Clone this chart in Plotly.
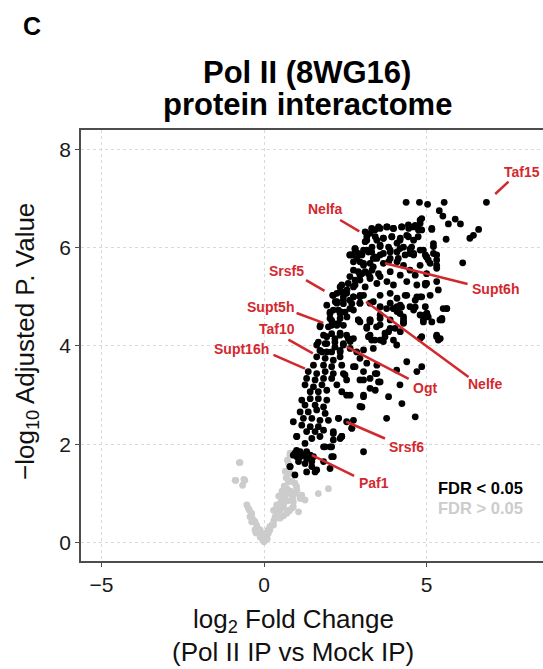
import plotly.graph_objects as go

# ---------------- data ----------------
sig_points = [
    # top-right sparse points
    (4.37,6.92),(4.78,6.92),(5.03,6.88),(5.54,6.92),(6.84,6.92),(5.39,6.75),(5.50,6.64),(5.67,6.48),
    (5.88,6.58),(6.04,6.48),(6.60,6.37),(6.44,6.25),(6.33,6.19),(5.16,6.37),(4.85,6.59),(4.80,6.49),
    (4.70,6.42),(5.60,6.17),(5.21,6.08),(6.11,5.69),(4.96,5.85),(5.05,5.75),(5.31,5.75),(5.31,5.64),
    # upper dense block
    (3.41,6.36),(3.57,6.39),(3.79,6.42),(3.98,6.39),(4.23,6.42),(4.45,6.39),(4.65,6.45),(4.80,6.56),
    (4.85,6.36),(5.16,6.39),(3.26,6.29),(3.16,6.22),
    (3.47,6.15),(3.67,6.19),(3.93,6.22),(4.19,6.19),(4.39,6.25),(4.60,6.15),(4.74,6.22),(4.09,6.09),
    (3.83,6.01),(4.29,6.01),(4.54,6.01),(3.57,6.05),(3.32,6.01),(3.11,6.12),
    (2.80,5.95),(3.01,5.85),(3.21,5.91),(3.41,5.81),(3.67,5.88),(3.88,5.78),(4.09,5.91),(4.34,5.85),
    (4.60,5.88),(5.00,5.81),(4.80,5.95),(5.21,5.88),(2.64,5.85),(2.85,5.78),
    (3.06,5.64),(3.36,5.61),(3.67,5.68),(4.09,5.71),(4.29,5.64),(4.49,5.54),(4.80,5.64),(5.11,5.68),
    (5.31,5.58),(2.90,5.51),(3.21,5.47),(3.52,5.47),(3.88,5.51),(4.19,5.44),(4.65,5.44),(5.00,5.47),
    (2.64,5.41),(2.95,5.34),(3.26,5.37),(2.80,5.24),(3.11,5.20),(3.47,5.27),(3.78,5.31),(3.98,5.24),
    (4.39,5.31),(4.70,5.24),(5.00,5.27),(5.31,5.31),
    (2.24,5.07),(2.49,5.10),(2.75,5.00),(3.06,5.03),(3.57,5.03),(3.88,5.07),(4.09,4.97),(4.39,5.03),
    (4.65,4.93),(4.85,5.00),(5.11,5.03),(2.19,4.90),(2.44,4.93),(2.95,4.87),(3.36,4.90),
    (2.13,4.73),(2.39,4.69),(2.64,4.76),(3.57,4.79),(3.98,4.76),(4.23,4.79),(4.65,4.79),(4.90,4.62),
    (5.16,4.49),(3.57,4.56),(3.26,4.49),(4.29,4.49),(2.03,4.56),
    # diagonal band
    (2.11,5.03),(2.34,5.20),(2.55,5.14),(2.75,5.20),(1.93,4.83),(2.24,4.87),(2.44,5.00),(2.64,4.93),
    (2.95,5.00),(2.03,4.66),(2.34,4.66),(2.55,4.59),(2.75,4.73),(2.13,4.46),(2.44,4.42),(1.73,4.42),
    (2.80,5.98),(2.64,5.85),(2.90,5.88),(3.16,5.95),(2.75,5.71),(3.06,5.68),(3.36,5.78),(3.57,5.85),
    (3.88,5.91),(2.75,5.54),(3.01,5.47),(3.32,5.54),(3.57,5.41),
    (4.49,5.97),(4.60,5.85),(4.90,5.95),(5.00,5.81),(5.21,6.02),(5.31,5.85),(4.96,5.27),(5.36,5.14),
    (4.80,5.00),(4.96,4.80),(4.60,4.73),(5.05,4.59),(5.62,4.76),(5.47,4.56),(4.09,4.80),(4.29,4.59),
    (2.95,4.87),(3.26,4.87),(3.57,4.80),(3.88,4.87),(4.19,4.83),(4.34,5.03),(4.70,5.00),(4.96,5.24),
    (5.00,4.66),(4.90,4.53),(5.51,4.76),(5.41,4.53),(2.90,4.53),(3.26,4.53),(3.57,4.63),(3.88,4.53),
    (4.09,4.70),(4.29,4.53),(3.46,4.39),(3.72,4.26),(3.88,4.36),(4.19,4.29),(3.16,4.36),(3.21,4.19),
    (3.41,4.12),(3.67,4.09),(3.98,4.12),(4.85,4.19),(5.31,4.22),(5.36,4.12),
    (2.39,5.24),(2.59,5.27),(2.80,5.34),(2.95,5.44),(3.11,5.51),(3.26,5.40),(2.13,5.03),(2.34,5.10),
    (2.54,5.07),(2.75,5.00),(2.95,5.03),(2.24,4.90),(2.44,4.86),(2.70,4.86),(2.03,4.69),(2.29,4.73),
    (2.49,4.69),(2.08,4.52),(2.34,4.56),(1.98,4.39),(2.24,4.42),(1.83,4.22),(2.08,4.25),(2.34,4.22),
    (2.59,4.15),(1.67,4.08),(1.93,4.05),(2.18,4.08),(2.44,4.05),(1.72,3.91),(1.93,3.88),(2.34,3.91),
    (2.65,3.95),
    # middle / lower band
    (1.72,4.39),(2.08,4.42),(2.29,4.46),(2.34,4.26),(2.54,4.22),(1.93,4.19),(2.18,4.15),(2.75,4.15),
    (2.90,4.53),(3.16,4.39),(3.26,4.22),(1.62,4.02),(1.88,4.05),(2.18,3.98),(2.44,4.02),(2.65,4.09),
    (1.78,3.88),(2.08,3.88),(2.34,3.88),(2.85,3.88),(3.06,3.92),(3.36,3.95),(1.62,3.78),(1.88,3.75),
    (2.13,3.71),(2.34,3.78),(1.52,3.61),(1.83,3.61),(2.08,3.58),(2.39,3.61),(2.75,3.58),(3.16,3.65),
    (3.47,3.61),(2.95,3.75),(1.36,3.48),(1.62,3.44),(1.88,3.48),(2.13,3.44),(1.31,3.34),(1.57,3.31),
    (1.83,3.34),(2.08,3.34),(2.44,3.44),(2.54,3.31),(3.06,3.48),(3.26,3.34),(3.47,3.44),(2.95,3.31),
    (1.26,3.21),(1.52,3.17),(1.78,3.21),(1.42,3.07),(1.67,3.07),(1.93,3.10),(2.24,3.21),(2.39,3.07),
    (2.65,3.00),(3.26,3.14),(3.52,3.27),(1.16,2.90),(1.42,2.93),(1.67,2.93),(1.93,2.90),(1.26,2.80),
    (1.57,2.80),(1.83,2.76),(3.06,2.97),(3.01,2.76),(1.11,2.66),(1.36,2.66),(1.62,2.70),(1.88,2.63),
    (1.21,2.53),(1.47,2.53),(1.72,2.49),(2.29,2.53),(2.54,2.46),(2.75,2.49),(1.98,2.49),(0.90,2.46),
    (1.16,2.39),(1.42,2.36),(1.67,2.36),(1.31,2.26),(1.57,2.26),(1.83,2.29),(2.13,2.26),(2.39,2.16),
    (2.70,2.33),(1.01,2.16),(1.47,2.12),(1.72,2.16),(2.13,2.09),(1.88,1.95),(2.08,1.95),(2.34,2.12),
    (0.95,1.82),(1.11,1.85),(1.01,1.75),(1.21,1.78),(1.31,1.71),(1.06,1.65),(1.26,1.61),(1.52,1.75),
    (1.83,1.65),(2.08,1.75),(1.47,1.55),(0.80,1.55),(1.62,1.48),
    # lower scattered
    (1.00,1.88),(0.90,1.78),(1.11,1.75),(1.31,1.85),(1.42,1.78),(1.26,2.02),(1.00,2.16),(0.80,1.55),
    (0.95,1.38),(1.31,1.44),(1.57,1.44),(2.03,1.51),(1.47,1.65),(1.83,1.95),(2.03,1.95),(2.13,1.75),
    (2.13,2.22),(2.39,2.16),(2.29,2.53),(2.70,2.33),(3.06,1.85),(3.77,2.53),(4.65,2.56),(4.24,2.83),
    (3.83,2.97),(4.18,3.21),(4.39,3.68),(4.70,3.48),(4.85,3.58),(4.08,3.51),(2.95,2.77),(3.06,3.00),
    (3.42,3.10),(3.57,3.27),(3.42,3.44),(3.06,3.31),(2.80,3.58),(2.49,3.41),(2.54,3.00),(5.31,4.19),
    (5.42,4.15),(5.62,4.76),(5.47,4.53),(5.01,4.66),(4.90,4.49),(4.80,4.63),(4.49,4.80),(4.29,4.46),
    (4.03,4.36),(3.83,4.29),(3.57,4.43),(4.80,4.15),(3.57,4.12),(3.72,4.19),(3.31,4.12),(2.95,4.49),
    (3.26,4.53),(4.08,4.02),(4.18,4.66),(3.98,4.76),(3.77,4.76),
    # top band
    (3.11,6.32),(3.31,6.39),(3.52,6.42),(3.77,6.42),(3.98,6.39),(4.24,6.42),(4.44,6.46),(4.59,6.42),
    (4.75,6.36),(3.16,6.15),(3.42,6.22),(3.67,6.19),(3.93,6.22),(4.18,6.15),(4.44,6.22),(2.80,5.98),
    (2.70,5.85),(3.06,5.95),(3.31,5.91),(3.57,6.02),(3.88,5.95),(4.18,5.98),(4.49,5.88),(4.13,5.78),
    (3.83,5.71),(3.47,5.78),(3.26,5.68),(2.95,5.71),
]

ns_points = [
    (-0.76,1.63),(-0.87,1.27),(-0.62,1.29),(-0.66,1.17),(-0.53,0.77),(-0.45,0.66),(-0.38,0.56),
    (-0.33,0.46),(-0.23,0.36),(-0.14,0.26),(-0.07,0.16),(0.00,0.02),(0.08,0.12),(0.18,0.26),
    (0.29,0.36),(0.34,0.50),(0.44,0.63),(0.39,0.77),(0.54,0.87),(0.65,0.97),(0.70,1.10),(0.75,1.27),
    (0.80,1.41),(0.75,1.61),(0.80,1.78),(0.59,0.73),(0.85,0.70),(1.06,0.63),(1.11,0.90),(1.01,1.07),
    (1.16,0.97),(1.67,1.00),(1.98,1.10),(0.95,1.21),(0.85,0.97),(0.49,0.50),(0.29,0.66),(0.13,0.26),
    (-0.12,0.12),(-0.28,0.26),(-0.38,0.43),(-0.43,0.53),(0.03,0.19),(0.70,0.66),(0.90,0.83),
    (-0.74,1.63),(-0.89,1.27),(-0.59,1.27),(-0.38,0.60),(-0.28,0.43),(-0.12,0.26),(0.03,0.09),
    (0.13,0.19),(0.18,0.33),(0.34,0.53),(0.39,0.73),(0.54,0.87),(0.70,1.00),(0.75,1.24),(0.80,1.82),
    (1.00,1.14),(1.11,0.94),(1.26,0.87),(0.90,0.73),(0.49,0.66),(0.70,0.60),
    (0.55,1.05),(0.62,1.15),(0.72,0.85),(0.45,0.95),(0.82,1.05),(0.60,0.78),(0.88,0.92),(0.50,0.80),
    (0.68,1.32),(0.78,1.50),(0.72,1.68),(0.65,1.45),(0.30,0.45),(0.24,0.36),(-0.05,0.06),(0.02,0.14),
    (0.10,0.08),(-0.48,0.70),(-0.40,0.55),(-0.20,0.30),(-0.25,0.20),(0.85,1.25),(0.95,1.00),
    (0.78,0.65),(0.60,0.55),(0.40,0.62),
]

labels = ["Taf15", "Nelfa", "Srsf5", "Supt6h", "Supt5h", "Nelfe", "Taf10", "Supt16h", "Ogt", "Srsf6", "Paf1"]
label_x = [7.92, 1.88, 0.68, 7.13, 0.20, 6.80, 0.39, -0.68, 4.96, 4.39, 3.38]
label_y = [7.53, 6.78, 5.53, 5.15, 4.80, 3.23, 4.34, 3.94, 3.14, 1.95, 1.22]
seg_from = [(7.52,7.34),(2.34,6.56),(1.29,5.34),(6.26,5.26),(1.00,4.67),(6.29,3.37),(0.75,4.13),(0.29,3.82),(4.45,3.33),(3.72,2.12),(2.77,1.36)]
seg_to = [(7.11,7.09),(2.93,6.33),(1.86,5.12),(3.72,5.68),(1.82,4.47),(3.14,4.90),(1.50,3.85),(1.26,3.54),(2.55,3.98),(2.53,2.46),(1.47,1.78)]

legend_labels = ["FDR < 0.05", "FDR > 0.05"]
legend_x = 6.67
legend_y = [1.12, 0.70]

x_ticks = [-5, 0, 5]
y_ticks = [0, 2, 4, 6, 8]

# ---------------- styling ----------------
FONT = "Liberation Sans, Arial, Helvetica, sans-serif"
RED = "#D2292F"
BLACK = "#000000"
GREY = "#CCCCCC"
W, H = 543, 669
L, R, T, B = 81, 0, 130, 108


def pxx(xp):
    return (xp - L) / (W - L - R)


def pxy(yp):
    return (H - B - yp) / (H - T - B)


fig = go.Figure()
fig.add_trace(go.Scatter(
    x=[p[0] for p in ns_points], y=[p[1] for p in ns_points], mode="markers",
    marker=dict(color=GREY, size=6.8, line=dict(width=0)), hoverinfo="skip", showlegend=False))
fig.add_trace(go.Scatter(
    x=[p[0] for p in sig_points], y=[p[1] for p in sig_points], mode="markers",
    marker=dict(color=BLACK, size=6.8, line=dict(width=0)), hoverinfo="skip", showlegend=False))

shapes = []
for (x0, y0), (x1, y1) in zip(seg_from, seg_to):
    shapes.append(dict(type="line", xref="x", yref="y", x0=x0, y0=y0, x1=x1, y1=y1,
                       line=dict(color=RED, width=2.5)))

annotations = []
for t, x, y in zip(labels, label_x, label_y):
    annotations.append(dict(x=x, y=y, xref="x", yref="y", text="<b>" + t + "</b>", showarrow=False,
                            font=dict(family=FONT, size=14, color=RED), xanchor="center", yanchor="middle"))
for t, y, c in zip(legend_labels, legend_y, [BLACK, GREY]):
    annotations.append(dict(x=legend_x, y=y, xref="x", yref="y", text="<b>" + t + "</b>", showarrow=False,
                            font=dict(family=FONT, size=16.5, color=c), xanchor="center", yanchor="middle"))

annotations += [
    dict(x=pxx(32), y=pxy(26), xref="paper", yref="paper", text="<b>C</b>", showarrow=False,
         font=dict(family=FONT, size=25, color="#000"), xanchor="center", yanchor="middle"),
    dict(x=pxx(307), y=pxy(73), xref="paper", yref="paper", text="<b>Pol II (8WG16)</b>", showarrow=False,
         font=dict(family=FONT, size=31, color="#000"), xanchor="center", yanchor="middle"),
    dict(x=pxx(307), y=pxy(105), xref="paper", yref="paper", text="<b>protein interactome</b>", showarrow=False,
         font=dict(family=FONT, size=31, color="#000"), xanchor="center", yanchor="middle"),
    dict(x=pxx(293), y=pxy(620), xref="paper", yref="paper", text="log<sub>2</sub> Fold Change", showarrow=False,
         font=dict(family=FONT, size=26, color="#111"), xanchor="center", yanchor="middle"),
    dict(x=pxx(293), y=pxy(652), xref="paper", yref="paper", text="(Pol II IP vs Mock IP)", showarrow=False,
         font=dict(family=FONT, size=26, color="#111"), xanchor="center", yanchor="middle"),
    dict(x=pxx(26), y=pxy(342), xref="paper", yref="paper", text="\u2212log<sub>10</sub> Adjusted P. Value",
         showarrow=False, textangle=-90,
         font=dict(family=FONT, size=26, color="#111"), xanchor="center", yanchor="middle"),
]

axis_common = dict(
    showgrid=True, gridcolor="#D9D9D9", gridwidth=1, griddash="dot", zeroline=False,
    showline=True, linecolor="#4D4D4D", linewidth=1.6,
    ticks="outside", ticklen=4, tickwidth=1.2, tickcolor="#4D4D4D",
    tickfont=dict(family=FONT, size=21, color="#1A1A1A"),
)

fig.update_layout(
    width=W, height=H, margin=dict(l=L, r=R, t=T, b=B, pad=0),
    paper_bgcolor="white", plot_bgcolor="white",
    xaxis=dict(range=[-5.63, 8.58], tickvals=x_ticks, mirror=True, **axis_common),
    yaxis=dict(range=[-0.37, 8.39], tickvals=y_ticks, **axis_common),
    shapes=shapes, annotations=annotations, showlegend=False,
)

fig.write_html("out.html")
